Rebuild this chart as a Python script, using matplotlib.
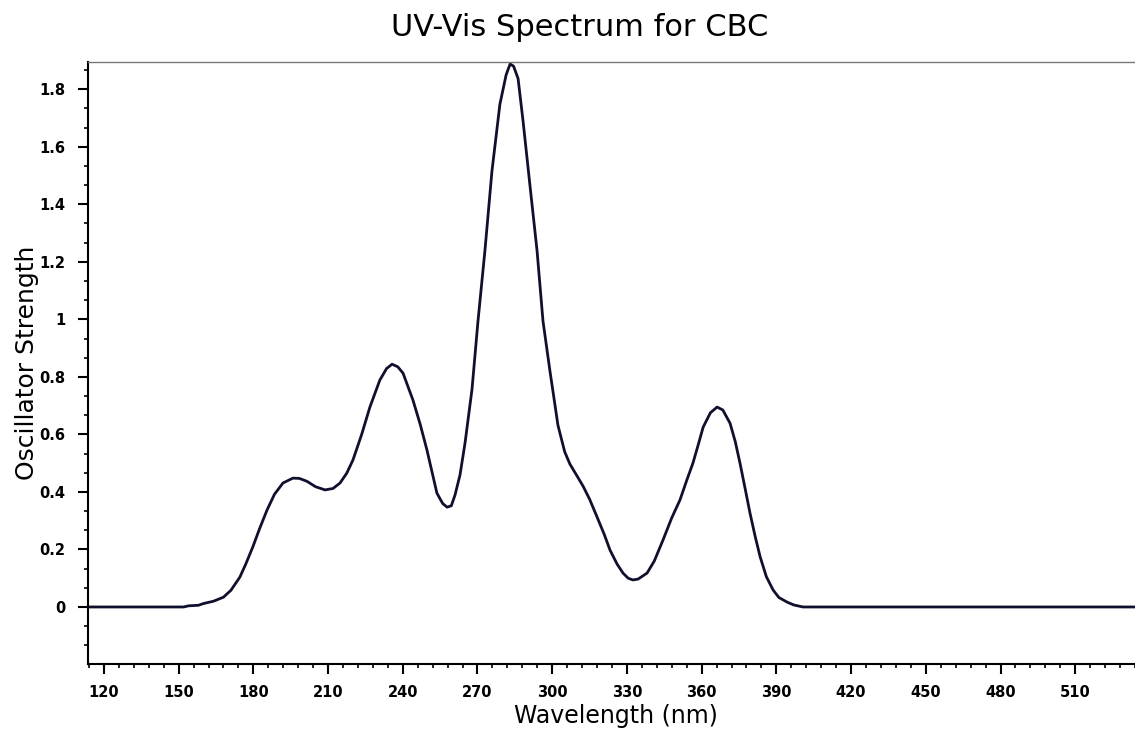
import numpy as np
import matplotlib.pyplot as plt
from matplotlib.ticker import MultipleLocator, FuncFormatter

# values
wavelength = [114, 140, 152, 154, 158, 160, 164, 168, 171, 174.6, 177, 179.8,
              182.5, 185.5, 188.5, 191.9, 195.9, 198.5, 201.5, 205, 208.8, 212,
              214.8, 217.5, 220, 223.5, 226.8, 230.8, 233.5, 235.7, 238, 240.1,
              244.1, 247, 249.7, 253.7, 256, 257.8, 259.5, 261, 263, 265, 267.8,
              270.2, 273, 275.8, 279, 281.5, 283.1, 284.5, 286.3, 288.3, 291.1,
              293.9, 296.3, 299.1, 300.3, 302.3, 305, 307.1, 310, 312.4, 315,
              318, 321, 323.2, 326, 328.4, 330.5, 332.4, 334.5, 338.1, 341,
              344.5, 348, 351.3, 354, 356.5, 358.5, 360.6, 363.5, 366.2, 368.5,
              371.4, 373.5, 375.4, 377.5, 379.4, 381.5, 383.5, 386, 388.7, 391,
              394.3, 397, 400.7, 420, 480, 535]
strength = [0, 0, 0, 0.004, 0.006, 0.012, 0.02, 0.034, 0.058, 0.104, 0.15, 0.209,
            0.272, 0.337, 0.392, 0.431, 0.448, 0.447, 0.437, 0.418, 0.407, 0.412,
            0.431, 0.465, 0.511, 0.6, 0.695, 0.789, 0.829, 0.844, 0.835, 0.813,
            0.719, 0.635, 0.546, 0.396, 0.36, 0.347, 0.352, 0.39, 0.46, 0.57,
            0.757, 0.994, 1.24, 1.515, 1.748, 1.85, 1.888, 1.88, 1.837, 1.689,
            1.463, 1.24, 0.994, 0.82, 0.75, 0.632, 0.54, 0.497, 0.455, 0.42,
            0.375, 0.313, 0.25, 0.198, 0.15, 0.118, 0.1, 0.094, 0.097, 0.118,
            0.16, 0.233, 0.31, 0.372, 0.44, 0.5, 0.56, 0.625, 0.675, 0.695,
            0.685, 0.639, 0.575, 0.5, 0.41, 0.327, 0.245, 0.174, 0.105, 0.059,
            0.033, 0.017, 0.007, 0, 0, 0, 0]

xticks = np.arange(120, 511, 30)

fig = plt.figure(figsize=(11.35, 7.32), dpi=100)
ax = fig.add_axes([0.0775, 0.093, 0.9225, 0.822])

ax.plot(wavelength, strength, color='#10102e', lw=2)

ax.set_xlim(113.6, 534)
ax.set_ylim(-0.198, 1.894)

ax.set_xticks(xticks)
ax.xaxis.set_minor_locator(MultipleLocator(6))
ax.yaxis.set_major_locator(MultipleLocator(0.2))
ax.yaxis.set_minor_locator(MultipleLocator(0.2 / 3))
ax.yaxis.set_major_formatter(FuncFormatter(lambda v, p: '%g' % round(v, 2)))

ax.tick_params(which='major', direction='out', length=7, width=1.5,
               labelsize=10.5, colors='black')
ax.tick_params(which='minor', direction='out', length=3, width=1.2)
ax.tick_params(axis='y', pad=9)
ax.tick_params(axis='x', pad=8)
for lbl in ax.get_xticklabels() + ax.get_yticklabels():
    lbl.set_fontweight('bold')

ax.spines['right'].set_visible(False)
ax.spines['top'].set_color('#777777')
ax.spines['top'].set_linewidth(1)
ax.spines['left'].set_linewidth(1.5)
ax.spines['bottom'].set_linewidth(1.5)

fig.text(0.543, 0.022, 'Wavelength (nm)', fontsize=17, ha='center', va='center')
fig.text(0.024, 0.504, 'Oscillator Strength', fontsize=18, rotation=90,
         ha='center', va='center')
fig.text(0.511, 0.962, 'UV-Vis Spectrum for CBC', fontsize=22, ha='center', va='center')

fig.savefig('out.png', dpi=100)
